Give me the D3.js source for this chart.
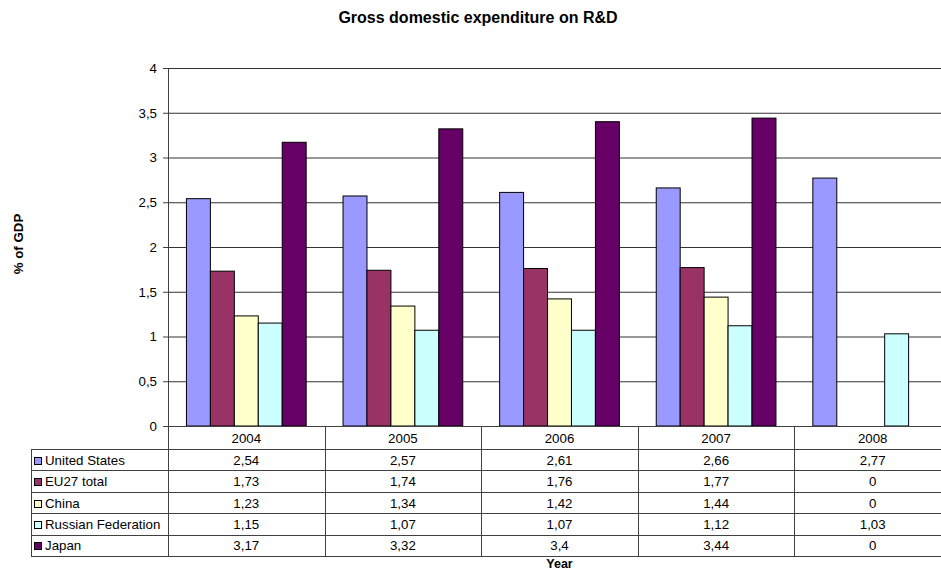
<!DOCTYPE html>
<html><head><meta charset="utf-8">
<script src="https://cdn.jsdelivr.net/npm/d3@7"></script>
<style>body{margin:0;background:#fff;overflow:hidden}svg{font-family:"Liberation Sans",Arial,sans-serif}</style>
</head><body>
<script>
const years = ["2004","2005","2006","2007","2008"];
const seriesNames = ["United States","EU27 total","China","Russian Federation","Japan"];
const unitedStates = [2.54,2.57,2.61,2.66,2.77];
const eu27 = [1.73,1.74,1.76,1.77,0];
const china = [1.23,1.34,1.42,1.44,0];
const russia = [1.15,1.07,1.07,1.12,1.03];
const japan = [3.17,3.32,3.4,3.44,0];
const seriesColors = ["#9999FF","#993366","#FFFFCC","#CCFFFF","#660066"];
const yTicks = [0,0.5,1,1.5,2,2.5,3,3.5,4];
const title = "Gross domestic expenditure on R&D";
const yLabel = "% of GDP";
const xLabel = "Year";

const series = [unitedStates, eu27, china, russia, japan];
const W = 941, H = 572;
const pLeft = 168, pRight = 951, pTop = 68, pBottom = 426;
const FS = 13.3;
const fmt = v => String(v).replace(".", ",");

const svg = d3.select("body").append("svg").attr("width", W).attr("height", H);

const x = d3.scaleBand().domain(years).range([pLeft, pRight]).paddingInner(0).paddingOuter(0);
const xs = d3.scaleBand().domain(d3.range(series.length)).range([0, x.bandwidth()]).paddingInner(0).paddingOuter(0.77);
const y = d3.scaleLinear().domain([0, 4]).range([pBottom, pTop]);

// title
svg.append("text").attr("x", 478).attr("y", 23).attr("text-anchor", "middle")
  .attr("font-size", 16).attr("font-weight", "bold").text(title);

// gridlines
const grid = svg.append("g").attr("transform", `translate(${pLeft},0)`)
  .call(d3.axisLeft(y).tickValues(yTicks.filter(d => d > 0)).tickSize(-(pRight - pLeft)).tickFormat(""));
grid.select(".domain").remove();
grid.selectAll("line").attr("stroke", "#333");

// bars
series.forEach((vals, si) => {
  svg.append("g").selectAll("rect").data(years.map((yr, i) => ({yr, v: vals[i]})).filter(d => d.v > 0))
    .join("rect")
    .attr("x", d => x(d.yr) + xs(si))
    .attr("y", d => y(d.v))
    .attr("width", xs.bandwidth())
    .attr("height", d => y(0) - y(d.v))
    .attr("fill", seriesColors[si])
    .attr("stroke", "#000").attr("stroke-width", 1);
});

// y axis
const ya = svg.append("g").attr("transform", `translate(${pLeft},0)`)
  .call(d3.axisLeft(y).tickValues(yTicks).tickSize(5).tickSizeOuter(0).tickPadding(6).tickFormat(fmt));
ya.select(".domain").attr("stroke", "#404040");
ya.selectAll("line").attr("stroke", "#404040");
ya.selectAll("text").attr("font-size", FS).attr("fill", "#000").attr("font-family", "Liberation Sans, Arial, sans-serif");

// x axis line
svg.append("line").attr("x1", pLeft).attr("x2", pRight).attr("y1", pBottom + 0.5).attr("y2", pBottom + 0.5).attr("stroke", "#404040");

// data table
const tableTop = 449, tableBottom = 556, tableLeft = 31;
const rowY = d3.scaleBand().domain(d3.range(series.length)).range([tableTop, tableBottom]);
const tg = svg.append("g");
const lineCol = "#404040";
tg.selectAll(".yr").data(years).join("text")
  .attr("x", d => x(d) + x.bandwidth() / 2).attr("y", (pBottom + tableTop) / 2 + 5)
  .attr("text-anchor", "middle").attr("font-size", FS).text(d => d);
years.concat([null]).forEach((yr) => {
  const xv = yr ? x(yr) : x.range()[1];
  tg.append("line").attr("x1", Math.round(xv) + 0.5).attr("x2", Math.round(xv) + 0.5)
    .attr("y1", pBottom).attr("y2", tableBottom).attr("stroke", lineCol);
});
tg.append("line").attr("x1", tableLeft + 0.5).attr("x2", tableLeft + 0.5)
  .attr("y1", tableTop).attr("y2", tableBottom).attr("stroke", lineCol);
d3.range(series.length + 1).forEach(i => {
  const yy = i < series.length ? rowY(i) : tableBottom;
  tg.append("line").attr("x1", tableLeft).attr("x2", pRight)
    .attr("y1", Math.round(yy) + 0.5).attr("y2", Math.round(yy) + 0.5).attr("stroke", lineCol);
});
series.forEach((vals, si) => {
  const cy = rowY(si) + rowY.bandwidth() / 2;
  tg.append("rect").attr("x", 34.5).attr("y", Math.round(cy - 3) + 0.5).attr("width", 7).attr("height", 7)
    .attr("fill", seriesColors[si]).attr("stroke", "#000");
  tg.append("text").attr("x", 45).attr("y", cy + 5).attr("font-size", FS).text(seriesNames[si]);
  tg.selectAll(null).data(years).join("text")
    .attr("x", (d) => x(d) + x.bandwidth() / 2).attr("y", cy + 5)
    .attr("text-anchor", "middle").attr("font-size", FS).text((d, i) => fmt(vals[i]));
});

// axis titles
svg.append("text").attr("transform", `translate(23,244) rotate(-90)`).attr("text-anchor", "middle")
  .attr("font-size", FS).attr("font-weight", "bold").text(yLabel);
svg.append("text").attr("x", (pLeft + pRight) / 2).attr("y", 568).attr("text-anchor", "middle")
  .attr("font-size", 12.5).attr("font-weight", "bold").text(xLabel);
</script>
</body></html>
